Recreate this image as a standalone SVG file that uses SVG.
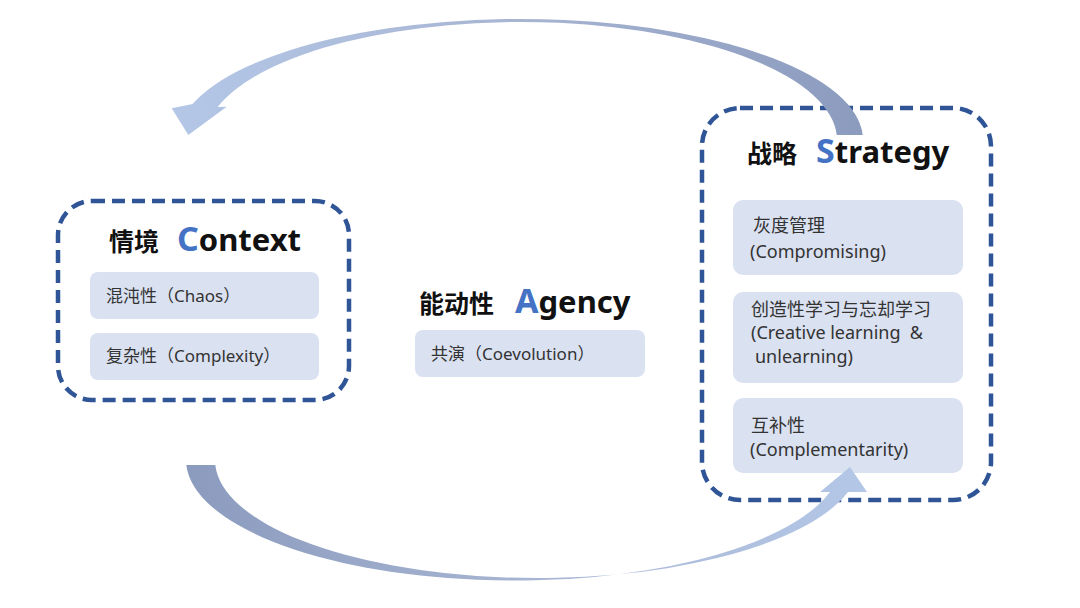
<svg xmlns="http://www.w3.org/2000/svg" width="1080" height="608" viewBox="0 0 1080 608">
  <defs>
    <style>
      .frame { fill: none; stroke: #2F5597; stroke-width: 4.5; stroke-dasharray: 13 7; }
      .item { fill: #DAE1F1; }
      .cjk-title { font-family: "Noto Sans CJK SC", sans-serif; font-weight: 700; font-size: 25px; fill: #111111; }
      .lat-title { font-family: "Noto Sans", "Noto Sans CJK SC", sans-serif; font-weight: 700; font-size: 31px; fill: #111111; }
      .hl { fill: #4472C4; font-size: 34px; }
      .txt { font-family: "Noto Sans", "Noto Sans CJK SC", sans-serif; font-size: 17px; fill: #333333; }
      .txt18 { font-family: "Noto Sans", "Noto Sans CJK SC", sans-serif; font-size: 18px; fill: #333333; }
    </style>
    <linearGradient id="gTop" gradientUnits="userSpaceOnUse" x1="170" y1="0" x2="866" y2="0">
      <stop offset="0" stop-color="#B4C7E7"/>
      <stop offset="0.5" stop-color="#A7B5D2"/>
      <stop offset="1" stop-color="#8B9BBE"/>
    </linearGradient>
    <linearGradient id="gBot" gradientUnits="userSpaceOnUse" x1="186" y1="0" x2="867" y2="0">
      <stop offset="0" stop-color="#8B9BBE"/>
      <stop offset="0.5" stop-color="#A7B5D2"/>
      <stop offset="1" stop-color="#B4C7E7"/>
    </linearGradient>
  </defs>

  <rect x="0" y="0" width="1080" height="608" fill="#FFFFFF"/>

  <g id="context">
    <rect class="frame" x="58" y="201" width="291" height="199" rx="34" ry="34"/>
    <text class="cjk-title" x="109" y="251">情境</text>
    <text class="lat-title" x="177" y="251"><tspan class="hl">C</tspan>ontext</text>
    <g id="chaos">
      <rect class="item" x="90" y="272" width="229" height="47" rx="8" ry="8"/>
      <text class="txt" x="106" y="302">混沌性（Chaos）</text>
    </g>
    <g id="complexity">
      <rect class="item" x="90" y="333" width="229" height="47" rx="8" ry="8"/>
      <text class="txt" x="106" y="362">复杂性（Complexity）</text>
    </g>
  </g>

  <g id="agency">
    <text class="cjk-title" x="419" y="313">能动性</text>
    <text class="lat-title" x="515" y="313"><tspan class="hl">A</tspan>gency</text>
    <g id="coevolution">
      <rect class="item" x="415" y="330" width="230" height="47" rx="8" ry="8"/>
      <text class="txt" x="431" y="360">共演（Coevolution）</text>
    </g>
  </g>

  <g id="strategy">
    <rect class="frame" x="702" y="108" width="289" height="392" rx="38" ry="38"/>
    <text class="cjk-title" x="747" y="163">战略</text>
    <text class="lat-title" x="816" y="163"><tspan class="hl">S</tspan>trategy</text>
    <g id="compromising">
      <rect class="item" x="733" y="200" width="230" height="75" rx="10" ry="10"/>
      <text class="txt18"><tspan x="753" y="232">灰度管理</tspan><tspan x="750" y="258">(Compromising)</tspan></text>
    </g>
    <g id="learning">
      <rect class="item" x="733" y="292" width="230" height="91" rx="10" ry="10"/>
      <text class="txt18" xml:space="preserve"><tspan x="751" y="316">创造性学习与忘却学习</tspan><tspan x="751" y="339">(Creative learning  &amp;</tspan><tspan x="755" y="363">unlearning)</tspan></text>
    </g>
    <g id="complementarity">
      <rect class="item" x="733" y="398" width="230" height="75" rx="10" ry="10"/>
      <text class="txt18"><tspan x="751" y="432">互补性</tspan><tspan x="750" y="456">(Complementarity)</tspan></text>
    </g>
  </g>

  <g id="connectors">
    <path id="arc-top" fill="url(#gTop)" d="M 862.7,135 A 343 121 0 0 0 192.5,104 L 171.7,108.3 L 188.3,135 L 226.7,106.7 L 217.6,107 A 316 118 0 0 1 836.7,135 Z"/>
    <path id="arc-bottom" fill="url(#gBot)" d="M 186.3,465 A 328 121 0 0 0 830,492 L 820,492 L 850,467 L 867,492 L 848,492 A 322.5 118 0 0 1 215.3,465 Z"/>
  </g>
</svg>
